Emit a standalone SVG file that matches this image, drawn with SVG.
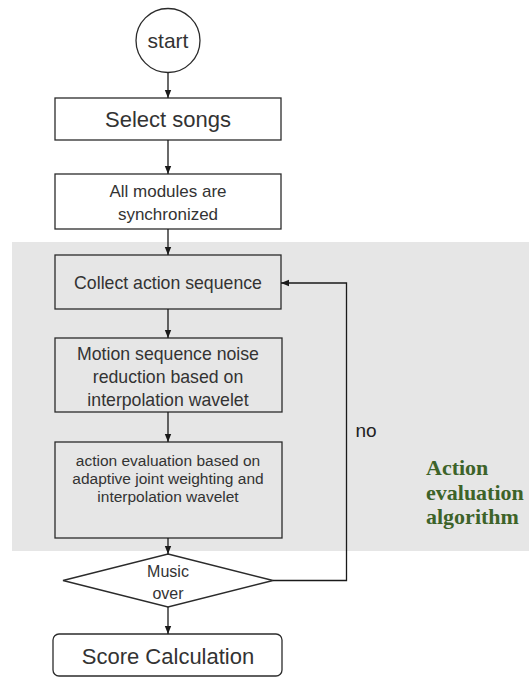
<svg xmlns="http://www.w3.org/2000/svg" width="529" height="677" viewBox="0 0 529 677">
<style>
.box{fill:#fff;stroke:#2b2b2b;stroke-width:1.3}
.gbox{fill:#e6e6e6;stroke:#2b2b2b;stroke-width:1.3}
.t{font-family:"Liberation Sans",Arial,sans-serif;fill:#333;text-anchor:middle;dominant-baseline:central}
.c{fill:none;stroke:#1a1a1a;stroke-width:1.3}
.g{font-family:"Liberation Serif","Times New Roman",serif;font-weight:bold;fill:#3d6329;font-size:22px}
</style>
<defs>
<marker id="ah" viewBox="0 0 8 8" refX="8" refY="4" markerWidth="8" markerHeight="8" markerUnits="userSpaceOnUse" orient="auto">
<path d="M0,0.8 L8,4 L0,7.2 Z" fill="#1a1a1a"/>
</marker>
</defs>
<rect id="region" x="12" y="242" width="517" height="309" fill="#e6e6e6"/>
<g id="region-label">
<text class="g" x="426" y="475">Action</text>
<text class="g" x="426" y="500">evaluation</text>
<text class="g" x="426" y="524">algorithm</text>
</g>
<g id="start">
<circle cx="168" cy="40.5" r="32" class="box"/>
<text class="t" x="168" y="40" font-size="21">start</text>
</g>
<g id="select">
<rect x="55" y="98" width="226" height="42" class="box"/>
<text class="t" x="168" y="119" font-size="22">Select songs</text>
</g>
<g id="sync">
<rect x="55" y="174" width="226" height="55" class="box"/>
<text class="t" x="168" y="191" font-size="17">All modules are</text>
<text class="t" x="168" y="214" font-size="17">synchronized</text>
</g>
<g id="collect">
<rect x="55" y="255" width="226" height="54" class="gbox"/>
<text class="t" x="168" y="283" font-size="17.7">Collect action sequence</text>
</g>
<g id="denoise">
<rect x="55" y="338" width="227" height="74" class="gbox"/>
<text class="t" x="168" y="354" font-size="17.7">Motion sequence noise</text>
<text class="t" x="168" y="377" font-size="17.7">reduction based on</text>
<text class="t" x="168" y="400" font-size="17.7">interpolation wavelet</text>
</g>
<g id="evaluate">
<rect x="55" y="442" width="227" height="96" class="gbox"/>
<text class="t" x="168" y="460" font-size="15.5">action evaluation based on</text>
<text class="t" x="168" y="478" font-size="15.5">adaptive joint weighting and</text>
<text class="t" x="168" y="496" font-size="15.5">interpolation wavelet</text>
</g>
<g id="decision">
<polygon points="168,554 273,580.5 168,607 63,580.5" class="box"/>
<text class="t" x="168" y="571" font-size="16">Music</text>
<text class="t" x="168" y="593" font-size="16">over</text>
</g>
<g id="score">
<rect x="53" y="634" width="229" height="42" rx="6" class="box"/>
<text class="t" x="168" y="656" font-size="22">Score Calculation</text>
</g>
<g id="connectors">
<line x1="168" y1="72.5" x2="168" y2="98" class="c" marker-end="url(#ah)"/>
<line x1="168" y1="140" x2="168" y2="174" class="c" marker-end="url(#ah)"/>
<line x1="168" y1="229" x2="168" y2="255" class="c" marker-end="url(#ah)"/>
<line x1="168" y1="309" x2="168" y2="338" class="c" marker-end="url(#ah)"/>
<line x1="168" y1="412" x2="168" y2="442" class="c" marker-end="url(#ah)"/>
<line x1="168" y1="538" x2="168" y2="554" class="c" marker-end="url(#ah)"/>
<line x1="168" y1="607" x2="168" y2="634" class="c" marker-end="url(#ah)"/>
<polyline points="273,580.5 346.5,580.5 346.5,283 281,283" class="c" marker-end="url(#ah)"/>
<text class="t" x="366" y="430" font-size="19" style="fill:#222">no</text>
</g>
</svg>
